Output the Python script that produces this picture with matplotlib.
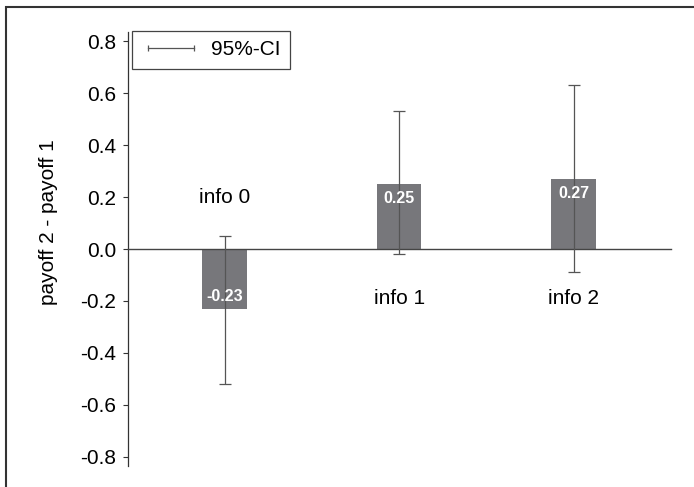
import numpy as np
import matplotlib.pyplot as plt
from matplotlib.lines import Line2D
from matplotlib.patches import Rectangle

plt.rcParams['font.family'] = ['Liberation Sans', 'DejaVu Sans']

groups = ['info 0', 'info 1', 'info 2']
diffs = [-0.23, 0.25, 0.27]
ci_low = [-0.52, -0.02, -0.09]
ci_high = [0.05, 0.53, 0.63]
value_labels = ['-0.23', '0.25', '0.27']
# where the group names sit (y in data units)
name_y = [0.20, -0.19, -0.19]
ticks = [-0.8, -0.6, -0.4, -0.2, 0.0, 0.2, 0.4, 0.6, 0.8]

bar_col = '#77777b'
err_col = '#555555'

x = np.arange(len(groups))
diffs = np.array(diffs)
yerr = np.array([diffs - np.array(ci_low), np.array(ci_high) - diffs])

fig = plt.figure(figsize=(6.94, 4.87), dpi=100)
ax = fig.add_axes([0.184, 0.0437, 0.7824, 0.89])

ax.bar(x, diffs, width=0.255, color=bar_col, zorder=2)
ax.errorbar(x, diffs, yerr=yerr, fmt='none', ecolor=err_col, elinewidth=0.9,
            capsize=4, capthick=0.9, zorder=3)

for xi, d, lab in zip(x, diffs, value_labels):
    off = -10.5 if d > 0 else 9
    ax.annotate(lab, (xi, d), xytext=(0, off), textcoords='offset points',
                ha='center', va='center', color='white', fontweight='bold', fontsize=11.5,
                zorder=4)

for xi, ny, g in zip(x, name_y, groups):
    ax.text(xi, ny, g, ha='center', va='center', fontsize=15)

ax.set_xlim(-0.556, 2.556)
ax.set_ylim(-0.835, 0.835)
ax.set_yticks(ticks)
ax.set_yticklabels(['%.1f' % v for v in ticks])
ax.tick_params(axis='y', direction='out', length=3.3, width=0.8, color='#333333',
               labelsize=15, pad=5)
ax.set_xticks([])

for s in ['top', 'right']:
    ax.spines[s].set_visible(False)
ax.spines['bottom'].set_position(('data', 0))
ax.spines['bottom'].set_color('#444444')
ax.spines['bottom'].set_linewidth(1.0)
ax.spines['left'].set_color('#333333')
ax.spines['left'].set_linewidth(0.9)

ax.set_ylabel('payoff 2 - payoff 1', fontsize=15)
ax.yaxis.set_label_coords(-0.128, 0.562)

ci_handle = Line2D([], [], color=err_col, lw=0.9, marker='|', markersize=4,
                   markeredgewidth=0.9)
leg = ax.legend([ci_handle], ['95%-CI'], loc='upper left', bbox_to_anchor=(0.0085, 1.003),
                borderaxespad=0, numpoints=2, handlelength=2.8, fontsize=15,
                borderpad=0.45, handletextpad=0.55,
                fancybox=False, framealpha=1, edgecolor='#444444')
leg.get_frame().set_linewidth(0.9)

# outer frame around the chart (only top and left edges fall inside the image)
fig.patches.append(Rectangle((5.7 / 694, -0.2), 1.2, 1 - 7.3 / 487 + 0.2,
                             transform=fig.transFigure, fill=False,
                             edgecolor='#333333', linewidth=1.5))

fig.savefig('out.png', dpi=100)
